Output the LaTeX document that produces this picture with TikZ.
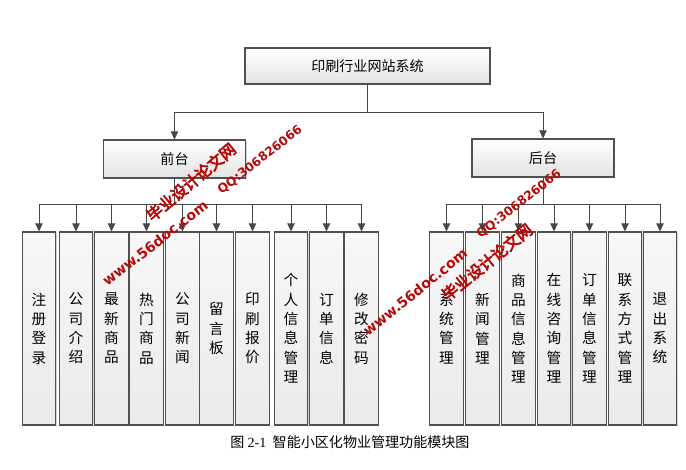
\documentclass[tikz,border=0pt]{standalone}
\usepackage{fontspec}
\setmainfont{Noto Sans CJK SC}
\newfontfamily\xiwen{Liberation Serif}
\newfontfamily\syzh[FakeBold=4]{Noto Sans CJK SC}
\newfontfamily\syen{DejaVu Sans Bold}
\usetikzlibrary{arrows.meta,positioning,shadows}
\definecolor{xian}{HTML}{474747}
\definecolor{bian}{HTML}{505050}
\definecolor{hong}{HTML}{B50A0A}
\tikzset{
  kuang/.style={draw=bian,line width=0.9pt,top color=white,bottom color=black!11,
                drop shadow={shadow xshift=1.1pt,shadow yshift=-1.1pt,fill=black!35,opacity=0.5},
                inner sep=2pt,font=\fontsize{12}{14}\selectfont},
  dakuang/.style={kuang,minimum width=7.35cm,minimum height=1.08cm},
  zhongkuang/.style={kuang,minimum width=4.26cm,minimum height=1.14cm},
  xiaokuang/.style={kuang,top color=black!3,bottom color=black!8,minimum width=1.0cm,
                    minimum height=5.79cm,align=center,font=\fontsize{12.5}{16.5}\selectfont},
  jiantou/.style={draw=xian,line width=0.8pt,-{Triangle[length=2.4mm,width=2.2mm]}},
  shuiyin/.style={text=hong,inner sep=0pt},
}

\begin{document}
\begin{tikzpicture}[x=0.03cm,y=-0.03cm]
  \useasboundingbox (0,0) rectangle (686,470);
  % ding ceng
  \node[dakuang] (xitong) at (367.5,66) {印刷行业网站系统};
  \node[zhongkuang] (qiantai) at (174.5,159) {前台};
  \node[zhongkuang] (houtai) at (543,158) {后台};
  \draw[jiantou] (xitong.south) -- ++(0,28) -| (qiantai.north);
  \draw[jiantou] (xitong.south) -- ++(0,28) -| (houtai.north);
  % qiantai mokuai
  \foreach \x/\t [count=\i] in {39/注\\册\\登\\录, 76/公\\司\\介\\绍, 111.5/最\\新\\商\\品,
      146.5/热\\门\\商\\品, 182.5/公\\司\\新\\闻, 216.5/留\\言\\板, 252.5/印\\刷\\报\\价,
      291/个\\人\\信\\息\\管\\理, 326.5/订\\单\\信\\息, 361.5/修\\改\\密\\码}{
    \node[xiaokuang] (q\i) at (\x,328.5) {\t};
    \draw[jiantou] (qiantai.south) -- ++(0,26) -| (q\i.north);
  }
  % houtai mokuai
  \foreach \x/\t [count=\i] in {446.5/系\\统\\管\\理, 482.5/新\\闻\\管\\理, 518.5/商\\品\\信\\息\\管\\理,
      554/在\\线\\咨\\询\\管\\理, 589.5/订\\单\\信\\息\\管\\理, 625/联\\系\\方\\式\\管\\理,
      660/退\\出\\系\\统}{
    \node[xiaokuang] (h\i) at (\x,328.5) {\t};
    \draw[jiantou] (houtai.south) -- ++(0,27) -| (h\i.north);
  }
  % tu ming
  \node[font=\fontsize{12}{14}\selectfont] (tuming) at (350,442) {图 {\xiwen 2-1}\ \ 智能小区化物业管理功能模块图};
  % shui yin
  \node[shuiyin,rotate=40,font=\syzh\fontsize{13.5}{15}\selectfont] (sy1) at (191,182) {毕业设计论文网};
  \node[shuiyin,rotate=38,font=\syen\fontsize{10.5}{12}\selectfont] (sy2) at (260,160) {QQ:306826066};
  \node[shuiyin,rotate=38,font=\syen\fontsize{12}{14}\selectfont] (sy3) at (155,243) {www.56doc.com};
  \node[shuiyin,rotate=39,font=\syzh\fontsize{13.5}{15}\selectfont] (sy4) at (487,262) {毕业设计论文网};
  \node[shuiyin,rotate=38,font=\syen\fontsize{10.5}{12}\selectfont] (sy5) at (519,204) {QQ:306826066};
  \node[shuiyin,rotate=39,font=\syen\fontsize{12}{14}\selectfont] (sy6) at (415,292) {www.56doc.com};
\end{tikzpicture}
\end{document}
